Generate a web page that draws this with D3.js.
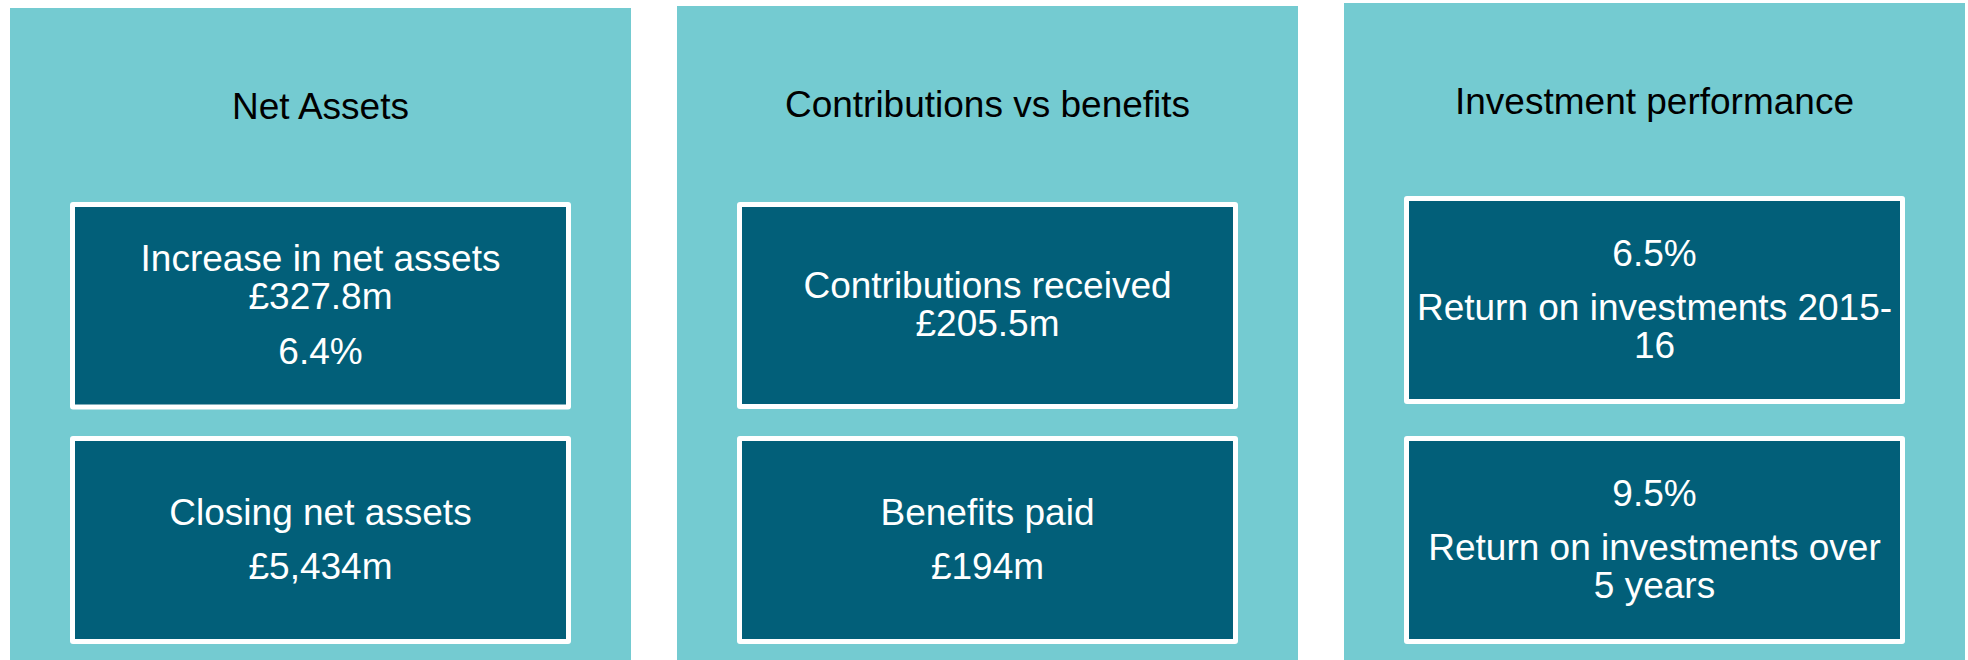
<!DOCTYPE html>
<html>
<head>
<meta charset="utf-8">
<script src="https://cdn.jsdelivr.net/npm/d3@7"></script>
<style>
  html, body { margin: 0; padding: 0; background: #ffffff; }
  svg { display: block; }
</style>
</head>
<body>
<svg id="chart" width="1968" height="660"></svg>
<script>
// ---- Data ----
const panelTitles = ["Net Assets", "Contributions vs benefits", "Investment performance"];

// Each box: list of paragraphs, each paragraph: list of lines
const netAssetsBoxes = [
  [["Increase in net assets", "£327.8m"], ["6.4%"]],
  [["Closing net assets"], ["£5,434m"]]
];
const contributionsBoxes = [
  [["Contributions received", "£205.5m"]],
  [["Benefits paid"], ["£194m"]]
];
const investmentBoxes = [
  [["6.5%"], ["Return on investments 2015-", "16"]],
  [["9.5%"], ["Return on investments over", "5 years"]]
];
const panelBoxes = [netAssetsBoxes, contributionsBoxes, investmentBoxes];

// ---- Layout (positions / styles) ----
const W = 1968, H = 660;
const panelTop = [8, 6, 3];
const boxTops = [[202, 436], [202, 436], [196, 436]];
const boxBottoms = [[409.5, 644], [409, 644], [404, 644]];
const boxMargin = 60;
const borderW = 5;
const fontSize = 37;
const lineGap = 38;
const paraGap = 54.5;
const capH = 26.5;
const lightTeal = "#74cbd1";
const darkTeal = "#025f79";
const fontFamily = "'Liberation Sans', Arial, Helvetica, sans-serif";

const svg = d3.select("#chart");

const x = d3.scaleBand()
  .domain(panelTitles)
  .range([10, 1965])
  .paddingInner(46 / 667)
  .paddingOuter(0);

const panels = svg.selectAll("g.panel")
  .data(panelTitles)
  .join("g")
  .attr("class", "panel");

panels.append("rect")
  .attr("x", d => x(d))
  .attr("y", (d, i) => panelTop[i])
  .attr("width", x.bandwidth())
  .attr("height", (d, i) => H - panelTop[i])
  .attr("fill", lightTeal);

panels.append("text")
  .attr("x", d => x(d) + x.bandwidth() / 2)
  .attr("y", (d, i) => panelTop[i] + 110.5)
  .attr("text-anchor", "middle")
  .attr("font-family", fontFamily)
  .attr("font-size", fontSize)
  .attr("fill", "#000000")
  .text(d => d);

panels.each(function(title, pi) {
  const g = d3.select(this);
  const bx = x(title) + boxMargin;
  const bw = x.bandwidth() - 2 * boxMargin;
  const boxes = panelBoxes[pi].map((paras, bi) => ({
    paras, bi,
    y0: boxTops[pi][bi],
    y1: boxBottoms[pi][bi]
  }));

  const bg = g.selectAll("g.box")
    .data(boxes)
    .join("g")
    .attr("class", "box");

  bg.append("rect")
    .attr("x", bx)
    .attr("y", d => d.y0)
    .attr("width", bw)
    .attr("height", d => d.y1 - d.y0)
    .attr("rx", 3)
    .attr("fill", "#ffffff");

  bg.append("rect")
    .attr("x", bx + borderW)
    .attr("y", d => d.y0 + borderW)
    .attr("width", bw - 2 * borderW)
    .attr("height", d => d.y1 - d.y0 - 2 * borderW)
    .attr("fill", darkTeal);

  bg.each(function(d) {
    // flatten lines with offsets
    const lines = [];
    let off = 0;
    d.paras.forEach((para, k) => {
      if (k > 0) off += paraGap;
      para.forEach((ln, j) => {
        if (j > 0) off += lineGap;
        lines.push({ text: ln, off });
      });
    });
    const total = off;
    const center = (d.y0 + d.y1) / 2;
    const first = center - 1.5 + capH / 2 - total / 2;
    d3.select(this).selectAll("text")
      .data(lines)
      .join("text")
      .attr("x", bx + bw / 2)
      .attr("y", l => first + l.off)
      .attr("text-anchor", "middle")
      .attr("font-family", fontFamily)
      .attr("font-size", fontSize)
      .attr("fill", "#ffffff")
      .text(l => l.text);
  });
});
</script>
</body>
</html>
